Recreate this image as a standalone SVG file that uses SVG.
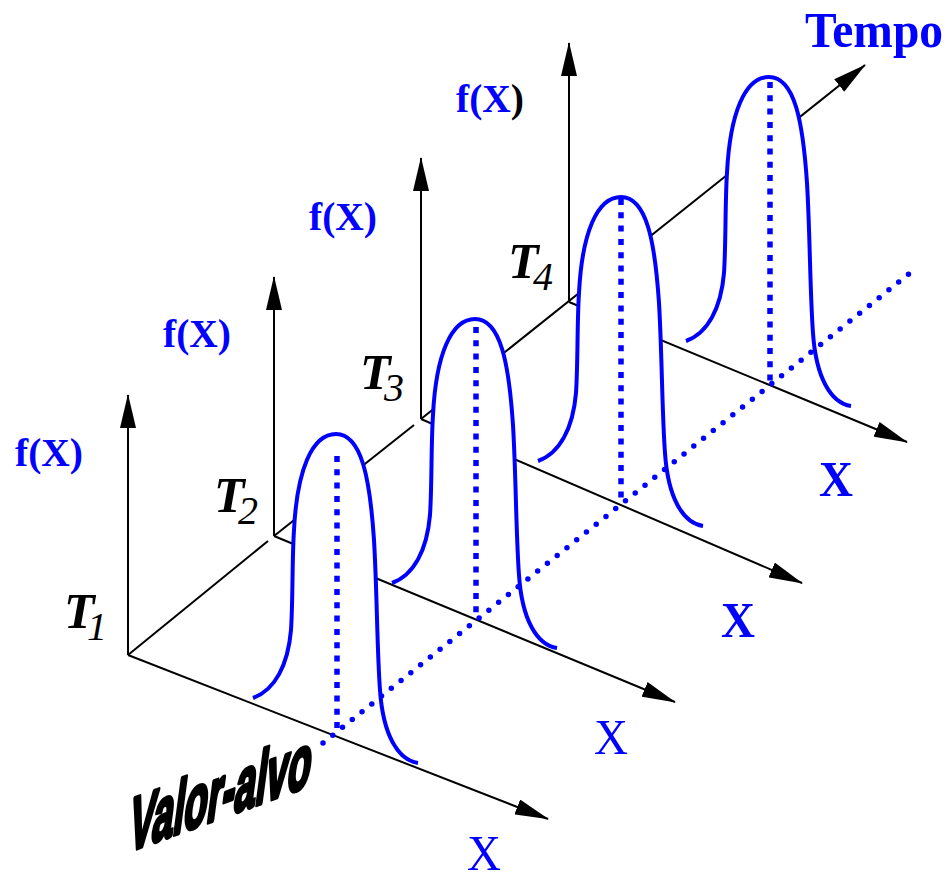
<svg xmlns="http://www.w3.org/2000/svg" xmlns:xlink="http://www.w3.org/1999/xlink" width="949" height="876" viewBox="0 0 949 876">
<style>
.ax{stroke:#000;stroke-width:2;fill:none;marker-end:url(#ah)}
.ln{stroke:#000;stroke-width:2;fill:none}
.bell{fill:#fff;stroke:#0000ff;stroke-width:4}
.dash{stroke:#0000ff;stroke-width:5.5;stroke-dasharray:6 7.3;fill:none}
.dot{stroke:#0000ff;stroke-width:5.5;stroke-dasharray:0 12.5;stroke-linecap:round;fill:none}
.fx{font-family:"Liberation Serif","Times New Roman",serif;font-weight:bold;font-size:40px;fill:#0000ff}
.tl{font-family:"Liberation Serif","Times New Roman",serif;font-style:italic;fill:#000}
.tb{font-weight:bold;font-size:50px}
.ts{font-weight:normal;font-size:40px}
.xr{font-family:"Liberation Serif","Times New Roman",serif;font-size:50px;fill:#0000ff}
.xb{font-family:"Liberation Serif","Times New Roman",serif;font-weight:bold;font-size:50px;fill:#0000ff}
</style>
<defs>
<marker id="ah" markerUnits="userSpaceOnUse" viewBox="0 0 34 16" markerWidth="34" markerHeight="16" refX="33" refY="8" orient="auto">
<path d="M0,0 L34,8 L0,16 Z" fill="#000"/>
</marker>
<path id="bellshape" d="M253,698 C275,690 288,665 291,630 C293,600 292,560 294,530 C297,470 312,434 336,434 C362,434 370,480 374,540 C377,590 377,650 380,690 C383,735 398,760 418,763"/>
</defs>
<rect x="0" y="0" width="949" height="876" fill="#fff"/>

<g id="connectors">
<line class="ln" x1="128" y1="655" x2="268" y2="541"/>
<line class="ln" x1="274" y1="536" x2="414" y2="425"/>
<line class="ax" x1="421" y1="419" x2="865" y2="65"/>
<line class="ax" x1="128" y1="655" x2="128" y2="395"/>
<line class="ax" x1="274" y1="536" x2="274" y2="277"/>
<line class="ax" x1="421" y1="419" x2="421" y2="158"/>
<line class="ax" x1="569" y1="302" x2="569" y2="43"/>
<line class="ax" x1="128" y1="655" x2="548" y2="819"/>
<line class="ax" x1="274" y1="536" x2="675" y2="702"/>
<line class="ax" x1="421" y1="419" x2="802" y2="583"/>
<line class="ax" x1="569" y1="302" x2="907" y2="442"/>
</g>

<g id="slice-T4">
<use xlink:href="#bellshape" href="#bellshape" class="bell" transform="translate(433,-357)"/>
<line class="dash" x1="770" y1="82" x2="770" y2="381"/>
<text class="fx" x="456" y="112" textLength="68" lengthAdjust="spacingAndGlyphs">f(X<tspan fill="#000">)</tspan></text>
<text class="tl" x="508" y="278"><tspan class="tb">T</tspan><tspan class="ts" x="533" y="290">4</tspan></text>
<text class="xb" x="819" y="496" textLength="34" lengthAdjust="spacingAndGlyphs">X</text>
</g>

<g id="slice-T3">
<use xlink:href="#bellshape" href="#bellshape" class="bell" transform="translate(285,-237)"/>
<line class="dash" x1="621" y1="199" x2="621" y2="498"/>
<text class="fx" x="309" y="230" textLength="68" lengthAdjust="spacingAndGlyphs">f(X)</text>
<text class="tl" x="360" y="389"><tspan class="tb">T</tspan><tspan class="ts" x="384" y="401">3</tspan></text>
<text class="xb" x="721" y="637" textLength="34" lengthAdjust="spacingAndGlyphs">X</text>
</g>

<g id="slice-T2">
<use xlink:href="#bellshape" href="#bellshape" class="bell" transform="translate(139,-115)"/>
<line class="dash" x1="476" y1="327" x2="476" y2="617"/>
<text class="fx" x="163" y="347" textLength="68" lengthAdjust="spacingAndGlyphs">f(X)</text>
<text class="tl" x="214" y="512"><tspan class="tb">T</tspan><tspan class="ts" x="238" y="524">2</tspan></text>
<text class="xr" x="594" y="754" textLength="34" lengthAdjust="spacingAndGlyphs">X</text>
</g>

<g id="slice-T1">
<use xlink:href="#bellshape" href="#bellshape" class="bell"/>
<line class="dash" x1="337" y1="456" x2="337" y2="730"/>
<text class="fx" x="15" y="466" textLength="68" lengthAdjust="spacingAndGlyphs">f(X)</text>
<text class="tl" x="64" y="628"><tspan class="tb">T</tspan><tspan class="ts" x="87" y="640">1</tspan></text>
<text class="xr" x="467" y="870" textLength="34" lengthAdjust="spacingAndGlyphs">X</text>
</g>

<g id="target">
<line class="dot" x1="323" y1="743" x2="910" y2="273"/>
<text transform="translate(127,852) skewY(-20) skewX(-8) scale(1,1.95)" font-family="'Liberation Sans',Arial,sans-serif" font-weight="bold" font-size="38" fill="#000" stroke="#000" stroke-width="2.2" stroke-linejoin="round">Valor-alvo</text>
</g>

<g id="tempo">
<text x="805" y="47" font-family="'Liberation Serif','Times New Roman',serif" font-weight="bold" font-size="50" fill="#0000ff" textLength="138" lengthAdjust="spacingAndGlyphs">Tempo</text>
</g>
</svg>
